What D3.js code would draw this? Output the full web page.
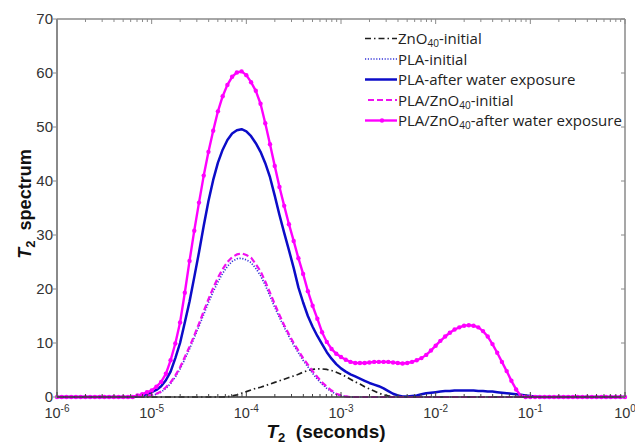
<!DOCTYPE html>
<html>
<head>
<meta charset="utf-8">
<script src="https://cdn.jsdelivr.net/npm/d3@7"></script>
<style>
  html, body { margin: 0; padding: 0; background: #fff; }
  svg { display: block; }
</style>
</head>
<body>
<svg id="chart" width="635" height="444"></svg>
<script>
// T2 relaxation spectra, log-spaced relaxation times from 1e-6 s to 1 s (20 points per decade)
const exponents = d3.range(0, 121).map(i => -6 + i * 0.05);
const t2 = exponents.map(e => Math.pow(10, e));

// ZnO40-initial
const zno40Initial = [
  0,0,0,0,0,0,0,0,0,0,
  0,0,0,0,0,0,0,0,0,0,
  0,0,0,0,0,0,0,0,0,0,
  0,0,0,0,0,0,0.05,0.2,0.4,0.7,
  1.0,1.3,1.6,1.8,2.1,2.4,2.7,3.0,3.3,3.6,
  3.9,4.2,4.6,4.9,5.1,5.2,5.2,5.1,4.9,4.6,
  4.2,3.8,3.3,2.8,2.4,1.9,1.5,1.1,0.7,0.4,
  0.2,0.1,0,0,0,0,0,0,0,0,
  0,0,0,0,0,0,0,0,0,0,
  0,0,0,0,0,0,0,0,0,0,
  0,0,0,0,0,0,0,0,0,0,
  0,0,0,0,0,0,0,0,0,0,
  0
];

// PLA-initial
const plaInitial = [
  0,0,0,0,0,0,0,0,0,0,
  0,0,0,0,0,0,0,0,0,0.1,
  0.3,0.5,0.9,1.6,2.5,3.7,5.2,7.0,8.9,11.0,
  13.1,15.3,17.5,19.5,21.3,22.9,24.2,25.1,25.6,25.7,
  25.4,24.9,23.8,22.5,20.7,18.7,16.6,14.7,12.9,11.2,
  9.6,8.2,6.8,5.6,4.4,3.3,2.4,1.6,1.0,0.5,
  0.2,0.1,0,0,0,0,0,0,0,0,
  0,0,0,0,0,0,0,0,0,0,
  0,0,0,0,0,0,0,0,0,0,
  0,0,0,0,0,0,0,0,0,0,
  0,0,0,0,0,0,0,0,0,0,
  0,0,0,0,0,0,0,0,0,0,
  0
];

// PLA-after water exposure
const plaWater = [
  0,0,0,0,0,0,0,0,0,0,
  0,0,0,0,0,0,0,0.1,0.3,0.5,
  0.9,1.3,2.0,3.1,4.7,7.2,10.0,13.8,17.7,22.2,
  26.8,31.7,36.3,40.2,43.4,45.8,47.6,48.8,49.4,49.6,
  49.2,48.3,47.0,45.4,43.3,40.7,37.3,33.7,30.4,27.2,
  23.9,20.3,17.5,15.0,13.0,11.3,9.8,8.3,7.1,6.1,
  5.3,4.7,4.2,3.8,3.4,3.0,2.6,2.3,2.0,1.6,
  1.1,0.6,0.3,0.1,0.1,0.2,0.3,0.5,0.7,0.8,
  0.9,1.0,1.1,1.1,1.2,1.2,1.2,1.2,1.2,1.1,
  1.1,1.0,1.0,0.9,0.8,0.7,0.6,0.5,0.4,0.3,
  0.2,0.1,0,0,0,0,0,0,0,0,
  0,0,0,0,0,0,0,0,0,0,
  0
];

// PLA/ZnO40-initial
const plaZnoInitial = [
  0,0,0,0,0,0,0,0,0,0,
  0,0,0,0,0,0,0,0,0.1,0.2,
  0.4,0.6,1.0,1.8,2.7,4.0,5.5,7.4,9.3,11.4,
  13.6,15.9,18.1,20.2,22.1,23.7,25.0,25.9,26.4,26.6,
  26.3,25.8,24.6,23.3,21.4,19.3,17.2,15.2,13.3,11.6,
  10.0,8.6,7.2,6.0,4.8,3.7,2.7,1.9,1.2,0.6,
  0.3,0.1,0,0,0,0,0,0,0,0,
  0,0,0,0,0,0,0,0,0,0,
  0,0,0,0,0,0,0,0,0,0,
  0,0,0,0,0,0,0,0,0,0,
  0,0,0,0,0,0,0,0,0,0,
  0,0,0,0,0,0,0,0,0,0,
  0
];

// PLA/ZnO40-after water exposure
const plaZnoWater = [
  0,0,0,0,0,0,0,0,0,0,
  0,0,0,0,0,0,0,0.3,0.5,0.9,
  1.2,1.9,2.8,4.3,6.8,9.9,13.8,19.3,25.2,30.8,
  36.0,41.0,45.4,49.3,52.9,55.7,57.8,59.3,60.1,60.3,
  59.6,58.3,56.7,54.3,50.7,46.8,42.8,38.9,35.4,32.0,
  28.9,25.7,22.8,19.6,16.9,14.5,12.0,10.2,8.9,8.0,
  7.4,6.9,6.5,6.3,6.3,6.3,6.4,6.5,6.5,6.5,
  6.5,6.4,6.3,6.2,6.3,6.5,6.8,7.2,7.8,8.6,
  9.5,10.4,11.2,11.9,12.5,12.9,13.2,13.3,13.2,12.9,
  12.2,11.2,9.8,8.2,6.5,4.8,3.0,1.4,0.2,0,
  0,0,0,0,0,0,0,0,0,0,
  0,0,0,0,0,0,0,0,0,0,
  0
];

const yTicks = [0, 10, 20, 30, 40, 50, 60, 70];
const xDecades = [-6, -5, -4, -3, -2, -1, 0];

const series = [
  { key: "zno", label: ["ZnO", "40", "-initial"], values: zno40Initial,
    color: "#1e1e1e", width: 1.7, dash: "6,3,1.5,3", markers: false },
  { key: "pla0", label: ["PLA-initial"], values: plaInitial,
    color: "#3535d8", width: 1.7, dash: "1.2,1.6", markers: false },
  { key: "pla1", label: ["PLA-after water exposure"], values: plaWater,
    color: "#0c0cc8", width: 2.5, dash: null, markers: false },
  { key: "mix0", label: ["PLA/ZnO", "40", "-initial"], values: plaZnoInitial,
    color: "#f010f0", width: 2.2, dash: "6,3", markers: false },
  { key: "mix1", label: ["PLA/ZnO", "40", "-after water exposure"], values: plaZnoWater,
    color: "#ff00ff", width: 2.4, dash: null, markers: true }
];

const L = 57, R = 625, T = 19, B = 397;
const svg = d3.select("#chart");

const x = d3.scaleLog().domain([1e-6, 1]).range([L, R]);
const y = d3.scaleLinear().domain([0, 70]).range([B, T]);

const frameColor = "#8a8a8a";
const tickFont = "'Liberation Sans', Arial, sans-serif";

// Curves
const line = d3.line()
  .x((d, i) => x(t2[i]))
  .y(d => y(d));

const plot = svg.append("g");
const drawOrder = ["zno", "pla1", "mix1", "pla0", "mix0"];
drawOrder.forEach(k => {
  const s = series.find(d => d.key === k);
  plot.append("path")
    .datum(s.values)
    .attr("fill", "none")
    .attr("stroke", s.color)
    .attr("stroke-width", s.width)
    .attr("stroke-dasharray", s.dash)
    .attr("stroke-linejoin", "round")
    .attr("d", line);
  if (s.markers) {
    plot.append("g").selectAll("circle")
      .data(s.values)
      .join("circle")
      .attr("cx", (d, i) => x(t2[i]))
      .attr("cy", d => y(d))
      .attr("r", 2.2)
      .attr("fill", s.color);
  }
});

// Frame
svg.append("line").attr("x1", L).attr("x2", R).attr("y1", T).attr("y2", T)
  .attr("stroke", frameColor).attr("stroke-width", 1.5);
svg.append("line").attr("x1", R).attr("x2", R).attr("y1", T).attr("y2", B)
  .attr("stroke", frameColor).attr("stroke-width", 1.5);
svg.append("line").attr("x1", L).attr("x2", L).attr("y1", T).attr("y2", B + 1)
  .attr("stroke", frameColor).attr("stroke-width", 2);
svg.append("line").attr("x1", L).attr("x2", R).attr("y1", B).attr("y2", B)
  .attr("stroke", "#333").attr("stroke-width", 1.5);

// Log ticks on top and bottom
const minorTicks = [];
xDecades.slice(0, -1).forEach(e => {
  for (let m = 2; m <= 9; m++) minorTicks.push(m * Math.pow(10, e));
});
const majorTicks = xDecades.map(e => Math.pow(10, e));

const tickG = svg.append("g").attr("stroke", "#444").attr("stroke-width", 1);
majorTicks.forEach(v => {
  tickG.append("line").attr("x1", x(v)).attr("x2", x(v)).attr("y1", B).attr("y2", B - 5);
  tickG.append("line").attr("x1", x(v)).attr("x2", x(v)).attr("y1", T).attr("y2", T + 5)
    .attr("stroke", frameColor);
});
minorTicks.forEach(v => {
  tickG.append("line").attr("x1", x(v)).attr("x2", x(v)).attr("y1", B).attr("y2", B - 3);
  tickG.append("line").attr("x1", x(v)).attr("x2", x(v)).attr("y1", T).attr("y2", T + 3)
    .attr("stroke", frameColor);
});

// Y ticks: outside on the left, inside on the right
yTicks.forEach(v => {
  svg.append("line").attr("x1", L - 4).attr("x2", L).attr("y1", y(v)).attr("y2", y(v))
    .attr("stroke", frameColor).attr("stroke-width", 1);
  svg.append("line").attr("x1", R - 4).attr("x2", R).attr("y1", y(v)).attr("y2", y(v))
    .attr("stroke", frameColor).attr("stroke-width", 1);
});

// Y tick labels
svg.append("g").selectAll("text")
  .data(yTicks)
  .join("text")
  .attr("x", L - 4)
  .attr("y", d => y(d) + 5)
  .attr("text-anchor", "end")
  .attr("font-family", tickFont)
  .attr("font-size", 15)
  .attr("fill", "#333")
  .text(d => d);

// X tick labels: 10 with superscript exponent
const xl = svg.append("g");
xDecades.forEach(e => {
  const t = xl.append("text")
    .attr("x", x(Math.pow(10, e)))
    .attr("y", 418)
    .attr("text-anchor", "middle")
    .attr("font-family", tickFont)
    .attr("font-size", 14.5)
    .attr("fill", "#333");
  t.append("tspan").text("10");
  t.append("tspan").attr("dy", -6).attr("font-size", 10).text(e);
});

// Axis titles
const xt = svg.append("text")
  .attr("x", 326).attr("y", 438)
  .attr("text-anchor", "middle")
  .attr("font-family", tickFont)
  .attr("font-weight", "bold")
  .attr("font-size", 19)
  .attr("fill", "#111");
xt.append("tspan").attr("font-style", "italic").text("T");
xt.append("tspan").attr("dy", 4).attr("font-size", 13).text("2");
xt.append("tspan").attr("dy", -4).text("\u00a0 (seconds)");

const yt = svg.append("text")
  .attr("transform", "translate(31,204) rotate(-90)")
  .attr("text-anchor", "middle")
  .attr("font-family", tickFont)
  .attr("font-weight", "bold")
  .attr("font-size", 18)
  .attr("fill", "#111");
yt.append("tspan").attr("font-style", "italic").text("T");
yt.append("tspan").attr("dy", 4).attr("font-size", 13).text("2");
yt.append("tspan").attr("dy", -4).text("\u00a0 spectrum");

// Legend
const legend = svg.append("g");
const legFont = "'Open Sans', 'Noto Sans', sans-serif";
series.forEach((s, i) => {
  const cy = 38.5 + i * 20.5;
  const g = legend.append("g");
  g.append("line")
    .attr("x1", s.key === "mix0" ? 368 : 365).attr("x2", 397)
    .attr("y1", cy).attr("y2", cy)
    .attr("stroke", s.color)
    .attr("stroke-width", s.width)
    .attr("stroke-dasharray", s.dash);
  if (s.markers) {
    g.append("circle").attr("cx", 382).attr("cy", cy).attr("r", 2.2).attr("fill", s.color);
  }
  const t = g.append("text")
    .attr("x", 398).attr("y", cy + 5.5)
    .attr("font-family", legFont)
    .attr("font-size", 15)
    .attr("fill", "#222");
  if (s.label.length === 1) {
    t.text(s.label[0]);
  } else {
    t.append("tspan").text(s.label[0]);
    t.append("tspan").attr("dy", 3).attr("font-size", 10).text(s.label[1]);
    t.append("tspan").attr("dy", -3).text(s.label[2]);
  }
});
</script>
</body>
</html>
